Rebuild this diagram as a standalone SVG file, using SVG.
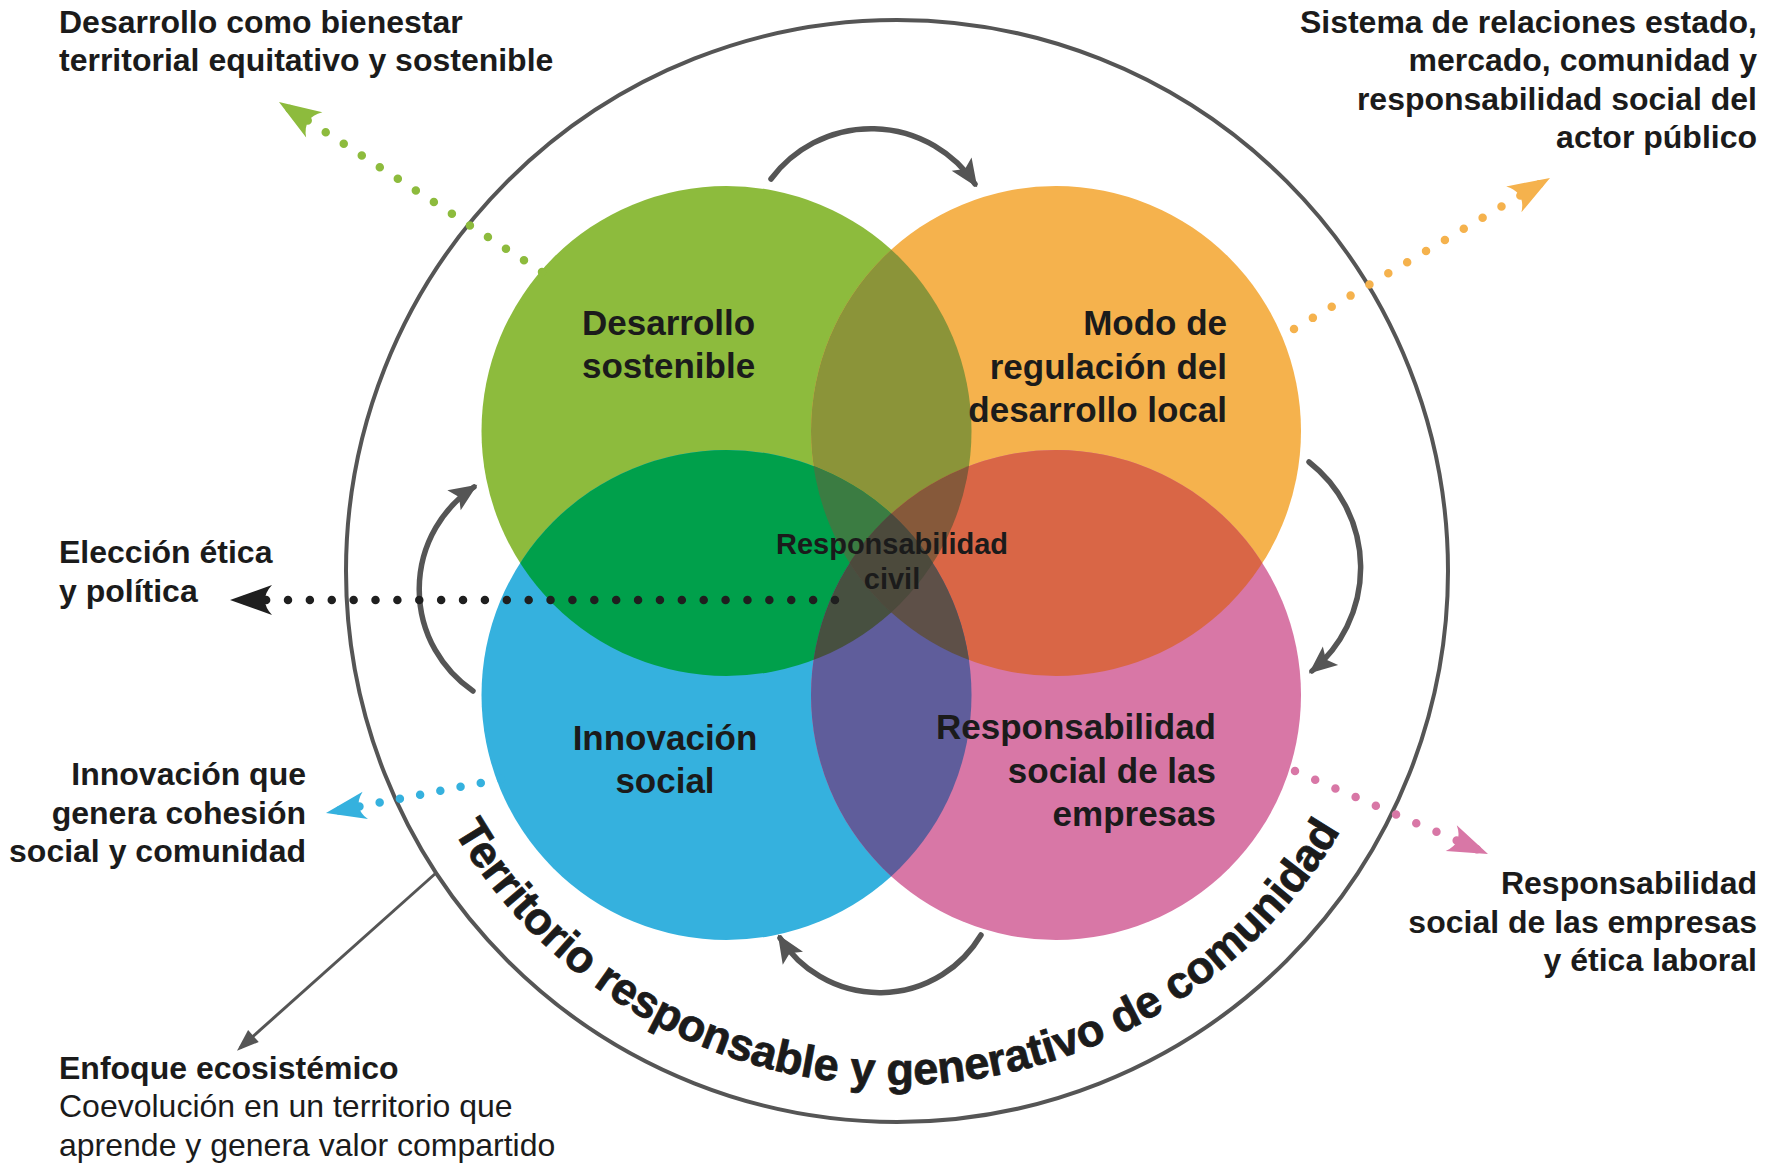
<svg xmlns="http://www.w3.org/2000/svg" width="1777" height="1164" viewBox="0 0 1777 1164">
<style>
  .t { font-family: "Liberation Sans", Arial, Helvetica, sans-serif; fill: #1b1b1b; }
  .b { font-weight: bold; }
  .outer { font-size: 32px; }
  .inner { font-size: 35px; font-weight: bold; }
  .mid { font-size: 29px; font-weight: bold; }
  .ring { font-size: 45px; font-weight: bold; stroke: #1b1b1b; stroke-width: 0.8; }
  .cyc { fill: none; stroke: #555555; stroke-width: 5.5; stroke-linecap: round; marker-end: url(#mGray); }
  .dots { fill: none; stroke-width: 8.5; stroke-linecap: round; }
</style>
<defs>
  <clipPath id="cG"><circle cx="726.5" cy="431" r="245"/></clipPath>
  <clipPath id="cO"><circle cx="1056" cy="431" r="245"/></clipPath>
  <clipPath id="cB"><circle cx="726.5" cy="695" r="245"/></clipPath>
  <clipPath id="cP"><circle cx="1056" cy="695" r="245"/></clipPath>
  <marker id="mGray" markerUnits="userSpaceOnUse" markerWidth="32" markerHeight="26" refX="24" refY="12" orient="auto" overflow="visible">
    <path d="M0,0 L28,12 L0,24 L6,12 Z" fill="#555555"/>
  </marker>
  <marker id="mLine" markerUnits="userSpaceOnUse" markerWidth="24" markerHeight="18" refX="18" refY="8" orient="auto" overflow="visible">
    <path d="M0,0 L22,8 L0,16 Z" fill="#555555"/>
  </marker>
  <marker id="mGreen" markerUnits="userSpaceOnUse" markerWidth="44" markerHeight="30" refX="42" refY="15" orient="auto" overflow="visible">
    <path d="M42,15 L0,0 Q14,15 0,30 Z" fill="#8dbb3d"/>
  </marker>
  <marker id="mOrange" markerUnits="userSpaceOnUse" markerWidth="44" markerHeight="30" refX="42" refY="15" orient="auto" overflow="visible">
    <path d="M42,15 L0,0 Q14,15 0,30 Z" fill="#f5b24d"/>
  </marker>
  <marker id="mBlack" markerUnits="userSpaceOnUse" markerWidth="44" markerHeight="30" refX="42" refY="15" orient="auto" overflow="visible">
    <path d="M42,15 L0,0 Q14,15 0,30 Z" fill="#1f1f1f"/>
  </marker>
  <marker id="mBlue" markerUnits="userSpaceOnUse" markerWidth="44" markerHeight="30" refX="40" refY="14" orient="auto" overflow="visible">
    <path d="M40,14 L0,0 Q13,14 0,28 Z" fill="#35b1de"/>
  </marker>
  <marker id="mPink" markerUnits="userSpaceOnUse" markerWidth="44" markerHeight="30" refX="40" refY="14" orient="auto" overflow="visible">
    <path d="M40,14 L0,0 Q13,14 0,28 Z" fill="#d877a6"/>
  </marker>
  <path id="ringPath" d="M 383,571 A 514 514 0 0 0 1411,571"/>
</defs>

<rect width="1777" height="1164" fill="#ffffff"/>

<g id="territorio">
  <circle cx="897" cy="571" r="551" fill="none" stroke="#555555" stroke-width="4"/>
  <text class="t ring"><textPath href="#ringPath" startOffset="50%" text-anchor="middle">Territorio responsable y generativo de comunidad</textPath></text>
</g>

<g id="venn">
  <g id="desarrollo-sostenible"><circle cx="726.5" cy="431" r="245" fill="#8dbb3d"/></g>
  <g id="modo-regulacion"><circle cx="1056" cy="431" r="245" fill="#f5b24d"/></g>
  <g id="innovacion-social"><circle cx="726.5" cy="695" r="245" fill="#35b1de"/></g>
  <g id="rse"><circle cx="1056" cy="695" r="245" fill="#d877a6"/></g>
  <g clip-path="url(#cG)"><circle cx="1056" cy="431" r="245" fill="#8b9439"/></g>
  <g clip-path="url(#cG)"><circle cx="726.5" cy="695" r="245" fill="#00a04b"/></g>
  <g clip-path="url(#cO)"><circle cx="1056" cy="695" r="245" fill="#d96646"/></g>
  <g clip-path="url(#cB)"><circle cx="1056" cy="695" r="245" fill="#5f5d9b"/></g>
  <g clip-path="url(#cG)"><g clip-path="url(#cO)"><circle cx="726.5" cy="695" r="245" fill="#3b7c42"/></g></g>
  <g clip-path="url(#cG)"><g clip-path="url(#cO)"><circle cx="1056" cy="695" r="245" fill="#86593a"/></g></g>
  <g clip-path="url(#cG)"><g clip-path="url(#cB)"><circle cx="1056" cy="695" r="245" fill="#475040"/></g></g>
  <g clip-path="url(#cO)"><g clip-path="url(#cB)"><circle cx="1056" cy="695" r="245" fill="#5e5048"/></g></g>
  <g clip-path="url(#cG)"><g clip-path="url(#cO)"><g clip-path="url(#cB)"><circle cx="1056" cy="695" r="245" fill="#4c4a3c"/></g></g></g>
</g>

<g id="connectors">
  <path class="cyc" d="M 771,179 A 125 125 0 0 1 975,184"/>
  <path class="cyc" d="M 1309,462 A 134 134 0 0 1 1312,671"/>
  <path class="cyc" d="M 981,935 A 118 118 0 0 1 780,938"/>
  <path class="cyc" d="M 473,691 A 123 123 0 0 1 474,487"/>
  <path d="M 436,873 L 240,1048" fill="none" stroke="#555555" stroke-width="3" marker-end="url(#mLine)"/>
  <path class="dots" d="M 542,272 L 279,102" stroke="#8dbb3d" stroke-dasharray="0 21.46" marker-end="url(#mGreen)"/>
  <path class="dots" d="M 1294,329 L 1550,178" stroke="#f5b24d" stroke-dasharray="0 21.9" marker-end="url(#mOrange)"/>
  <path class="dots" d="M 835,600 L 230,600" stroke="#1f1f1f" stroke-width="10.5" stroke-dasharray="0 21.88" marker-end="url(#mBlack)"/>
  <path class="dots" d="M 501,779 L 326,813" stroke="#35b1de" stroke-dasharray="0 20.6" marker-end="url(#mBlue)"/>
  <path class="dots" d="M 1295,771 L 1488,854" stroke="#d877a6" stroke-dasharray="0 22" marker-end="url(#mPink)"/>
</g>

<g id="venn-labels">
  <text class="t inner" x="582" y="335">Desarrollo<tspan x="582" y="378">sostenible</tspan></text>
  <text class="t inner" text-anchor="end" x="1227" y="335">Modo de<tspan x="1227" y="379">regulación del</tspan><tspan x="1227" y="422">desarrollo local</tspan></text>
  <text class="t inner" text-anchor="middle" x="665" y="750">Innovación<tspan x="665" y="793">social</tspan></text>
  <text class="t inner" text-anchor="end" x="1216" y="739">Responsabilidad<tspan x="1216" y="783">social de las</tspan><tspan x="1216" y="826">empresas</tspan></text>
  <g id="responsabilidad-civil">
    <text class="t mid" text-anchor="middle" x="892" y="554">Responsabilidad<tspan x="892" y="589">civil</tspan></text>
  </g>
</g>

<g id="outer-labels">
  <g id="lbl-bienestar"><text class="t b outer" x="59" y="33">Desarrollo como bienestar<tspan x="59" y="71">territorial equitativo y sostenible</tspan></text></g>
  <g id="lbl-sistema"><text class="t b outer" text-anchor="end" x="1757" y="33">Sistema de relaciones estado,<tspan x="1757" y="71">mercado, comunidad y</tspan><tspan x="1757" y="110">responsabilidad social del</tspan><tspan x="1757" y="148">actor público</tspan></text></g>
  <g id="lbl-eleccion"><text class="t b outer" x="59" y="563">Elección ética<tspan x="59" y="602">y política</tspan></text></g>
  <g id="lbl-innovacion"><text class="t b outer" text-anchor="end" x="306" y="785">Innovación que<tspan x="306" y="824">genera cohesión</tspan><tspan x="306" y="862">social y comunidad</tspan></text></g>
  <g id="lbl-rse"><text class="t b outer" text-anchor="end" x="1757" y="894">Responsabilidad<tspan x="1757" y="933">social de las empresas</tspan><tspan x="1757" y="971">y ética laboral</tspan></text></g>
  <g id="lbl-enfoque">
    <text class="t b outer" x="59" y="1079">Enfoque ecosistémico</text>
    <text class="t outer" x="59" y="1117">Coevolución en un territorio que<tspan x="59" y="1156">aprende y genera valor compartido</tspan></text>
  </g>
</g>
</svg>
